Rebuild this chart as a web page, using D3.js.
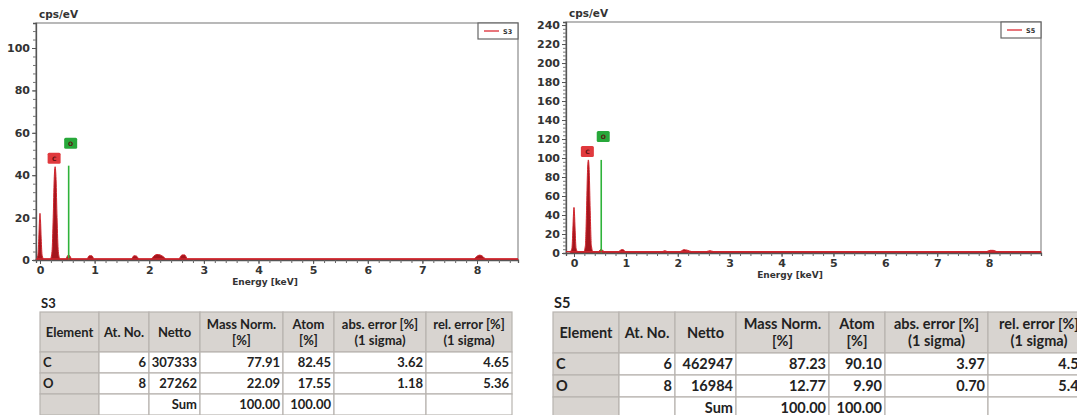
<!DOCTYPE html>
<html>
<head>
<meta charset="utf-8">
<script src="https://cdn.jsdelivr.net/npm/d3@7"></script>
<style>
  body { margin: 0; background: #fff; }
  svg { display: block; }
  .tick text { font-family: "DejaVu Sans", sans-serif; font-weight: bold; fill: #333; }
</style>
</head>
<body>
<div id="chart"></div>
<script>
// ---- data ----
var s3Energy = [-0.07, -0.04, -0.022, -0.009, 0, 0.009, 0.022, 0.04, 0.07,
    0.19, 0.22, 0.242, 0.26, 0.277, 0.294, 0.312, 0.335, 0.365,
    0.47, 0.5, 0.525, 0.55, 0.58,
    0.86, 0.9, 0.95, 0.99,
    1.67, 1.72, 1.77, 1.81,
    2.03, 2.09, 2.14, 2.2, 2.26, 2.31,
    2.54, 2.6, 2.65, 2.7,
    7.94, 8.0, 8.05, 8.1, 8.16, 8.75];
var s3Counts = [0.5, 2, 10, 19, 22, 19, 10, 2, 0.5,
    0.5, 4, 20, 38, 44, 38, 20, 4, 0.5,
    0.5, 1.8, 2.5, 1.8, 0.5,
    0.5, 2, 2, 0.5,
    0.5, 2, 1.8, 0.5,
    0.5, 2, 2.6, 2.4, 1.5, 0.5,
    0.5, 2.4, 2.4, 0.5,
    0.5, 1.8, 2.3, 1.8, 0.5, 0.5];

var s5Energy = [-0.07, -0.04, -0.022, -0.009, 0, 0.009, 0.022, 0.04, 0.07,
    0.19, 0.22, 0.242, 0.26, 0.277, 0.294, 0.312, 0.335, 0.365,
    0.47, 0.5, 0.525, 0.55, 0.58,
    0.86, 0.91, 0.95, 0.99,
    1.7, 1.75, 1.8,
    2.04, 2.12, 2.18, 2.27,
    2.55, 2.62, 2.69,
    7.95, 8.02, 8.08, 8.15, 9.0];
var s5Counts = [1.5, 5, 24, 42, 48, 42, 24, 5, 1.5,
    1.5, 8, 45, 85, 98, 85, 45, 8, 1.5,
    1.5, 3, 4, 3, 1.5,
    1.5, 3.5, 3.5, 1.5,
    1.5, 2.5, 1.5,
    1.5, 3.5, 3, 1.5,
    1.5, 2.5, 1.5,
    1.5, 2.8, 2.8, 1.5, 1.5];

var lineElements = ["C", "O"];
var lineEnergy = [0.277, 0.525];
var s3LineHeight = [44, 44.5];
var s5LineHeight = [98, 98];

var tableHeader = ["Element", "At. No.", "Netto", "Mass Norm.\n[%]", "Atom\n[%]",
    "abs. error [%]\n(1 sigma)", "rel. error [%]\n(1 sigma)"];
var s3Rows = [
    ["C", "6", "307333", "77.91", "82.45", "3.62", "4.65"],
    ["O", "8", "27262", "22.09", "17.55", "1.18", "5.36"],
    ["", "", "Sum", "100.00", "100.00", "", ""]
];
var s5Rows = [
    ["C", "6", "462947", "87.23", "90.10", "3.97", "4.55"],
    ["O", "8", "16984", "12.77", "9.90", "0.70", "5.46"],
    ["", "", "Sum", "100.00", "100.00", "", ""]
];

var W = 1077, H = 415;
var svg = d3.select("#chart").append("svg")
    .attr("width", W).attr("height", H);

function drawSpectrum(o) {
    var x = d3.scaleLinear().domain(o.xDomain).range([o.left, o.right]);
    var y = d3.scaleLinear().domain(o.yDomain).range([o.bottom, o.top]);
    var g = svg.append("g");

    // frame (top/right)
    g.append("rect")
        .attr("x", o.left).attr("y", o.top)
        .attr("width", o.right - o.left).attr("height", o.bottom - o.top)
        .attr("fill", "none").attr("stroke", "#8a8a8a").attr("stroke-width", 1.2);

    // spectrum
    var pts = d3.zip(o.energy, o.counts);
    var area = d3.area()
        .x(function(d) { return x(d[0]); })
        .y0(y(0))
        .y1(function(d) { return y(d[1]); })
        .curve(d3.curveMonotoneX);
    g.append("path").datum(pts)
        .attr("d", area)
        .attr("fill", "#a3161d")
        .attr("stroke", "#d0242c")
        .attr("stroke-width", 1);

    // element line (O)
    lineElements.forEach(function(el, i) {
        if (el === "O") {
            g.append("line")
                .attr("x1", x(lineEnergy[i])).attr("x2", x(lineEnergy[i]))
                .attr("y1", y(0)).attr("y2", y(o.lineHeight[i]))
                .attr("stroke", "#2fb33a").attr("stroke-width", 1.6);
        }
    });

    // label boxes
    var boxes = [
        {t: "C", cx: x(lineEnergy[0]) - 1, by: y(o.lineHeight[0]) - 3, fill: "#e0393d"},
        {t: "O", cx: x(lineEnergy[1]) + 2, by: y(o.lineHeight[0]) - 18, fill: "#27a83a"}
    ];
    boxes.forEach(function(b) {
        g.append("rect")
            .attr("x", b.cx - 6.5).attr("y", b.by - 11)
            .attr("width", 13).attr("height", 11).attr("rx", 1.5)
            .attr("fill", b.fill);
        g.append("text")
            .attr("x", b.cx).attr("y", b.by - 3)
            .attr("text-anchor", "middle")
            .style("font-family", "DejaVu Sans").style("font-size", "6px")
            .style("font-weight", "bold")
            .attr("fill", "#5a1010").text(b.t);
    });

    // axes
    var xa = g.append("g").attr("transform", "translate(0," + o.bottom + ")")
        .call(d3.axisBottom(x).tickValues(o.xMinor).tickSize(3).tickFormat(""));
    xa.selectAll("line").attr("stroke", "#666");
    xa.select(".domain").attr("stroke", "#555").attr("stroke-width", 1.3);
    var xm = g.append("g").attr("transform", "translate(0," + o.bottom + ")")
        .call(d3.axisBottom(x).tickValues(o.xMajor).tickSize(4).tickPadding(2)
            .tickFormat(d3.format("d")));
    xm.select(".domain").remove();
    xm.selectAll("line").attr("stroke", "#555");
    xm.selectAll("text").style("font-size", "11px");

    var ya = g.append("g").attr("transform", "translate(" + o.left + ",0)")
        .call(d3.axisLeft(y).tickValues(o.yMinor).tickSize(3).tickFormat(""));
    ya.selectAll("line").attr("stroke", "#777");
    ya.select(".domain").attr("stroke", "#555").attr("stroke-width", 1.3);
    var ym = g.append("g").attr("transform", "translate(" + o.left + ",0)")
        .call(d3.axisLeft(y).tickValues(o.yMajor).tickSize(4).tickPadding(2));
    ym.select(".domain").remove();
    ym.selectAll("line").attr("stroke", "#555");
    ym.selectAll("text").style("font-size", "11px");

    // red baseline
    g.append("line")
        .attr("x1", x(o.xDomain[0])).attr("x2", x(o.xDomain[1]))
        .attr("y1", y(o.counts[o.counts.length - 1]))
        .attr("y2", y(o.counts[o.counts.length - 1]))
        .attr("stroke", "#d0242c").attr("stroke-width", 1.2);

    // unit labels
    g.append("text").attr("x", o.left + 3).attr("y", o.top - 5)
        .style("font-family", "DejaVu Sans").style("font-size", "10.5px")
        .style("font-weight", "bold").attr("fill", "#333").text("cps/eV");
    g.append("text").attr("x", o.xLabel).attr("y", o.bottom + 25)
        .attr("text-anchor", "middle")
        .style("font-family", "DejaVu Sans").style("font-size", "9px")
        .style("font-weight", "bold").attr("fill", "#333").text("Energy [keV]");

    // legend
    g.append("rect").attr("x", o.right - 40).attr("y", o.top)
        .attr("width", 40).attr("height", 16)
        .attr("fill", "#fff").attr("stroke", "#666").attr("stroke-width", 1.2);
    g.append("line").attr("x1", o.right - 34).attr("x2", o.right - 19)
        .attr("y1", o.top + 8).attr("y2", o.top + 8)
        .attr("stroke", "#e0474f").attr("stroke-width", 1.5);
    g.append("text").attr("x", o.right - 15).attr("y", o.top + 10.5)
        .style("font-family", "DejaVu Sans").style("font-size", "6.5px")
        .style("font-weight", "bold").attr("fill", "#333").text(o.name);
}

drawSpectrum({
    name: "S3", energy: s3Energy, counts: s3Counts, lineHeight: s3LineHeight,
    left: 36, right: 518, top: 23, bottom: 260,
    xDomain: [-0.073, 8.75], yDomain: [0, 111.8],
    xMajor: d3.range(0, 9), xMinor: d3.range(0, 44).map(function(i) { return i * 0.2; }),
    yMajor: [0, 20, 40, 60, 80, 100], yMinor: d3.range(0, 28).map(function(i) { return i * 4; }),
    xLabel: 265
});
drawSpectrum({
    name: "S5", energy: s5Energy, counts: s5Counts, lineHeight: s5LineHeight,
    left: 566, right: 1041, top: 22, bottom: 253,
    xDomain: [-0.154, 9.0], yDomain: [0, 243.2],
    xMajor: d3.range(0, 9), xMinor: d3.range(0, 45).map(function(i) { return i * 0.2; }),
    yMajor: d3.range(0, 241, 20), yMinor: d3.range(0, 61).map(function(i) { return i * 4; }),
    xLabel: 790
});

function drawTable(o) {
    var g = svg.append("g");
    g.append("text").attr("x", o.cols[0] + 1).attr("y", o.rowsY[0] - 4)
        .style("font-family", "Lato").style("font-size", o.fs + "px")
        .style("font-weight", "bold").attr("fill", "#222").text(o.title);
    var all = [tableHeader].concat(o.rows);
    all.forEach(function(row, r) {
        row.forEach(function(cell, c) {
            var x0 = o.cols[c], x1 = o.cols[c + 1];
            var y0 = o.rowsY[r], y1 = o.rowsY[r + 1];
            var grey = r === 0 || c === 0;
            g.append("rect").attr("x", x0).attr("y", y0)
                .attr("width", x1 - x0).attr("height", y1 - y0)
                .attr("fill", grey ? "#d8d4d0" : "#fff")
                .attr("stroke", "#b8b4b0").attr("stroke-width", 1.2);
            var lines = cell.split("\n");
            var t = g.append("text")
                .style("font-family", "Lato").style("font-size", o.fs + "px")
                .style("font-weight", "bold").attr("fill", "#222");
            if (r === 0) {
                var cy = (y0 + y1) / 2;
                t.attr("text-anchor", "middle");
                lines.forEach(function(l, k) {
                    t.append("tspan").attr("x", (x0 + x1) / 2)
                        .attr("y", cy + (k - (lines.length - 1) / 2) * (o.fs + 3) + o.fs * 0.35)
                        .text(l);
                });
            } else {
                t.attr("y", (y0 + y1) / 2 + o.fs * 0.36);
                if (c === 0) t.attr("x", x0 + 3).text(cell);
                else t.attr("x", x1 - 3).attr("text-anchor", "end").text(cell);
            }
        });
    });
}

drawTable({title: "S3", rows: s3Rows, fs: 13,
    cols: [40, 99, 149, 200, 283, 334, 426, 512],
    rowsY: [312, 352, 373, 394, 415]});
drawTable({title: "S5", rows: s5Rows, fs: 14.5,
    cols: [553, 619, 675, 736, 829, 885, 988, 1090],
    rowsY: [312, 353, 375, 397, 419]});
</script>
</body>
</html>
